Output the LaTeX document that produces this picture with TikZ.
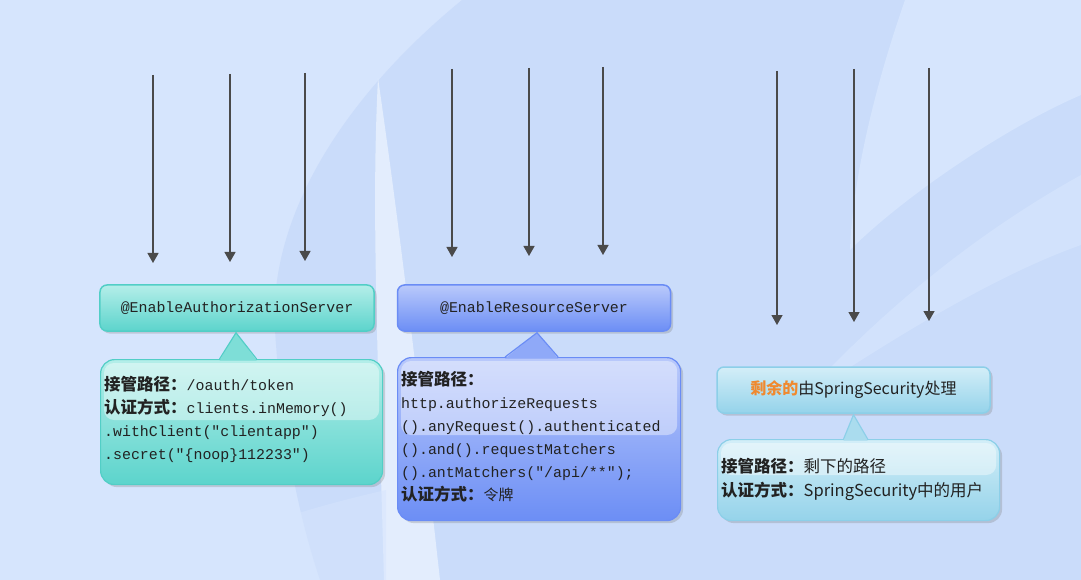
\documentclass[tikz,border=0pt]{standalone}
\usepackage{fontspec}
\setmonofont{Liberation Mono}
\newfontfamily\cjk{Noto Sans CJK SC}
\usetikzlibrary{arrows.meta, positioning, shadows, calc}

\definecolor{bgblue}{HTML}{D6E5FD}
\definecolor{bgdark}{HTML}{CADCFA}
\definecolor{bglight}{HTML}{E3EDFD}
\definecolor{arrowgray}{HTML}{4A4A4A}
\definecolor{tealedge}{HTML}{52CEC6}
\definecolor{tealtop}{HTML}{B4EEE9}
\definecolor{tealbot}{HTML}{5CD4CC}
\definecolor{tealmid}{HTML}{7EDED7}
\definecolor{blueedge}{HTML}{6A8CF5}
\definecolor{bluetop}{HTML}{B9C9FB}
\definecolor{bluebot}{HTML}{6C8EF5}
\definecolor{bluemid}{HTML}{8FA9F8}
\definecolor{skyedge}{HTML}{8CCFE8}
\definecolor{skytop}{HTML}{D3EEF8}
\definecolor{skybot}{HTML}{95D3EA}
\definecolor{skymid}{HTML}{AADCEE}
\definecolor{remorange}{HTML}{F0892E}
\definecolor{inkgray}{HTML}{222222}

\newcommand{\lab}[1]{{\cjk\bfseries\fontsize{16.5bp}{23bp}\selectfont #1}}

\tikzset{
  flow/.style={draw=arrowgray, line width=1.3bp, -{Triangle[width=11bp,length=10bp]}},
  hdr/.style={rounded corners=7bp, minimum height=46bp, inner sep=0pt, line width=1.5bp,
    drop shadow={shadow xshift=2.5bp, shadow yshift=-2.5bp, opacity=0.3},
    text=inkgray, font=\ttfamily\fontsize{14.9bp}{18bp}\selectfont},
  body/.style={rounded corners=14bp, inner sep=0pt, line width=1.2bp,
    drop shadow={shadow xshift=2.5bp, shadow yshift=-2.5bp, opacity=0.3}},
  gloss/.style={fill=white, fill opacity=0.4, rounded corners=10bp},
  code/.style={inner sep=0pt, align=left, anchor=north west, text=inkgray,
    font=\ttfamily\fontsize{14.9bp}{23bp}\selectfont},
  teal/.style={draw=tealedge, top color=tealtop, bottom color=tealbot},
  blue/.style={draw=blueedge, top color=bluetop, bottom color=bluebot},
  sky/.style={draw=skyedge, top color=skytop, bottom color=skybot}
}

\begin{document}
\begin{tikzpicture}[x=1bp, y=-1bp]
  % background
  \fill[bgblue] (0,0) rectangle (1081,580);
  \fill[bgdark] (462,0) .. controls (340,100) and (268,220) .. (275,330)
    .. controls (282,440) and (300,520) .. (320,580) -- (1081,580) -- (1081,0) -- cycle;
  \fill[bglight] (378,78) .. controls (372,200) and (376,300) .. (384,580)
    -- (440,580) .. controls (420,400) and (400,230) .. (378,78);
  \fill[bgblue] (905,0) .. controls (870,100) and (852,190) .. (850,250)
    .. controls (900,200) and (1000,130) .. (1081,95) -- (1081,0) -- cycle;
  \fill[bgblue, opacity=0.7] (1081,175) .. controls (1000,220) and (900,290) .. (800,400)
    .. controls (920,320) and (1010,270) .. (1081,245) -- cycle;
  \fill[bgblue, opacity=0.5] (130,580) .. controls (230,530) and (320,505) .. (386,490) -- (386,580) -- cycle;
  \useasboundingbox (0,0) rectangle (1081,580);

  % incoming paths
  \foreach \x/\ya/\yb [count=\i] in {153/75/263, 230/74/262, 305/73/261,
      452/69/257, 529/68/256, 603/67/255,
      777/71/325, 854/69/322, 929/68/321} {
    \coordinate (in\i) at (\x,\ya);
    \coordinate (tip\i) at (\x,\yb);
    \draw[flow] (in\i) -- (tip\i);
  }

  % callout bodies
  \node[body, teal, minimum width=282bp, minimum height=125bp, anchor=north west] (authBody) at (100,359) {};
  \node[body, blue, minimum width=283bp, minimum height=163bp, anchor=north west] (resBody) at (397,357) {};
  \node[body, sky, minimum width=282bp, minimum height=81bp, anchor=north west] (restBody) at (717,439) {};

  \fill[gloss] ($(authBody.north west)+(4,4)$) rectangle ($(authBody.north east)+(-4,61)$);
  \fill[gloss] ($(resBody.north west)+(4,4)$) rectangle ($(resBody.north east)+(-4,78)$);
  \fill[gloss] ($(restBody.north west)+(4,4)$) rectangle ($(restBody.north east)+(-4,36)$);

  % headers
  \node[hdr, teal, minimum width=274bp] (authHdr) at (237,308) {@EnableAuthorizationServer};
  \node[hdr, blue, minimum width=273bp] (resHdr) at (534,308) {@EnableResourceServer};
  \node[hdr, sky, minimum width=273bp, font=\cjk\fontsize{16bp}{18bp}\selectfont] (restHdr) at (853.5,390)
    {\textcolor{remorange}{\bfseries 剩余的}由SpringSecurity处理};

  % pointers
  \fill[tealmid] ($(authBody.north)+(-22,1.5)$) -- ($(authHdr.south)+(-1,1)$) -- ($(authBody.north)+(15,1.5)$) -- cycle;
  \draw[tealedge, line width=1.2bp] ($(authBody.north)+(-22,0)$) -- ($(authHdr.south)+(-1,1)$) -- ($(authBody.north)+(15,0)$);
  \fill[bluemid] ($(resBody.north)+(-34,1.5)$) -- ($(resHdr.south)+(3,1)$) -- ($(resBody.north)+(19,1.5)$) -- cycle;
  \draw[blueedge, line width=1.2bp] ($(resBody.north)+(-34,0)$) -- ($(resHdr.south)+(3,1)$) -- ($(resBody.north)+(19,0)$);
  \fill[skymid] ($(restBody.north)+(-15,1.5)$) -- ($(restHdr.south)+(0,1)$) -- ($(restBody.north)+(9,1.5)$) -- cycle;
  \draw[skyedge, line width=1.2bp] ($(restBody.north)+(-15,0)$) -- ($(restHdr.south)+(0,1)$) -- ($(restBody.north)+(9,0)$);

  % texts
  \node[code] (authTxt) at (104,376) {\lab{接管路径：}/oauth/token\\
    \lab{认证方式：}clients.inMemory()\\
    .withClient("clientapp")\\
    .secret("\{noop\}112233")};
  \node[code] (resTxt) at (401,371) {\lab{接管路径：}\\
    http.authorizeRequests\\
    ().anyRequest().authenticated\\
    ().and().requestMatchers\\
    ().antMatchers("/api/**");\\
    \lab{认证方式：}{\cjk 令牌}};
  \node[code, font=\cjk\fontsize{16.5bp}{24bp}\selectfont] (restTxt) at (721,458)
    {\lab{接管路径：}剩下的路径\\
    \lab{认证方式：}SpringSecurity中的用户};
\end{tikzpicture}
\end{document}
